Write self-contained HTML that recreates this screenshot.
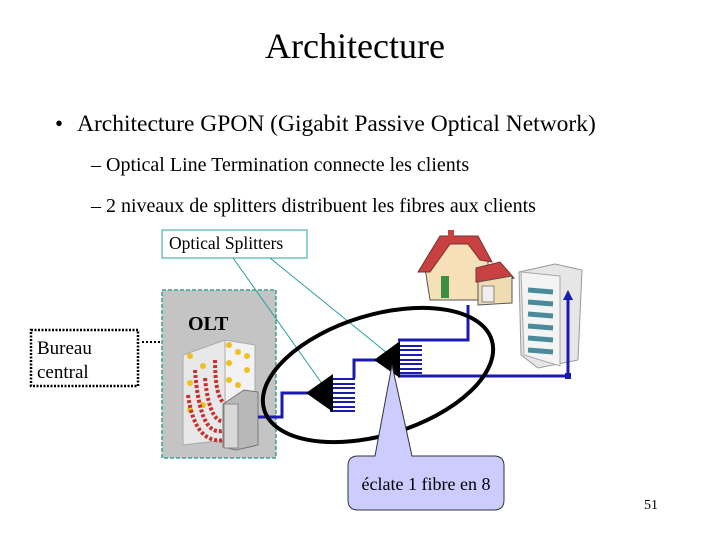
<!DOCTYPE html>
<html><head><meta charset="utf-8"><style>
body{margin:0;width:720px;height:540px;background:#fff;overflow:hidden;font-family:"Liberation Serif",serif;}
</style></head><body>
<svg width="720" height="540" viewBox="0 0 720 540" xmlns="http://www.w3.org/2000/svg" font-family="Liberation Serif, serif">
<text x="355" y="58" font-size="36" text-anchor="middle">Architecture</text>
<text x="55" y="131" font-size="23">•</text>
<text x="77" y="131" font-size="23.5">Architecture GPON (Gigabit Passive Optical Network)</text>
<text x="91" y="171" font-size="20">– Optical Line Termination connecte les clients</text>
<text x="91" y="212" font-size="20">– 2 niveaux de splitters distribuent les fibres aux clients</text>

<!-- Bureau central -->
<rect x="31" y="330" width="107" height="56" fill="#fff" stroke="#000" stroke-width="2.5" stroke-dasharray="2,1.5"/>
<text x="37" y="354" font-size="19">Bureau</text>
<text x="37" y="378" font-size="19">central</text>
<line x1="142" y1="342" x2="178" y2="342" stroke="#000" stroke-width="2" stroke-dasharray="2,2"/>

<!-- OLT -->
<rect x="162" y="290" width="114" height="168" fill="#c4c4c4" stroke="#3aa090" stroke-width="1.5" stroke-dasharray="4,2"/>
<text x="188" y="330" font-size="20" font-weight="bold">OLT</text>
<polygon points="183,355 225,340 225,440 183,445" fill="#e8e8e8" stroke="#aaa"/>
<polygon points="225,340 255,345 255,425 225,440" fill="#f2f2f2" stroke="#aaa"/>
<g fill="#f0c020">
<circle cx="190" cy="356" r="3"/><circle cx="190" cy="383" r="3"/><circle cx="190" cy="410" r="3"/><circle cx="203" cy="366" r="3"/><circle cx="229" cy="345" r="3"/><circle cx="238" cy="352" r="3"/><circle cx="247" cy="356" r="3"/><circle cx="229" cy="363" r="3"/><circle cx="247" cy="370" r="3"/><circle cx="229" cy="380" r="3"/><circle cx="238" cy="385" r="3"/><circle cx="203" cy="405" r="3"/>
</g>
<path d="M195 370 Q200 440 225 430 M205 378 Q210 430 230 420 M215 360 Q215 420 240 400 M188 395 Q195 445 225 440" stroke="#c83030" stroke-width="4" fill="none" stroke-dasharray="3,2"/>
<polygon points="223,404 244,390 258,392 258,445 236,450 223,447" fill="#b8b8b8" stroke="#777"/>
<rect x="224" y="404" width="14" height="44" fill="#d8d8d8" stroke="#888"/>

<!-- teal pointer lines -->
<line x1="233" y1="258" x2="323" y2="385" stroke="#2aa0a0" stroke-width="1"/>
<line x1="270" y1="258" x2="392" y2="357" stroke="#2aa0a0" stroke-width="1"/>
<rect x="162" y="230" width="145" height="28" fill="#fff" stroke="#2aa0a0" stroke-width="1"/>
<text x="169" y="249" font-size="17.5">Optical Splitters</text>

<!-- house -->
<polygon points="425,268 445,238 475,238 488,262 488,300 430,300" fill="#f6e0b8" stroke="#555"/>
<polygon points="418,272 440,236 478,236 492,262 480,260 468,244 450,244 430,272" fill="#c84040" stroke="#733"/>
<polygon points="476,268 500,262 514,278 490,283 476,282" fill="#c84040" stroke="#733"/>
<polygon points="478,282 512,276 512,303 478,305" fill="#f0dcb0" stroke="#555"/>
<rect x="441" y="276" width="8" height="22" fill="#3a9040"/>
<rect x="482" y="286" width="12" height="16" fill="#eee" stroke="#888"/>
<rect x="448" y="230" width="6" height="8" fill="#c84040"/>
<!-- building -->
<polygon points="519,272 555,264 582,270 578,360 538,368 521,355" fill="#e6e6e6" stroke="#999"/>
<polygon points="521,272 560,276 560,366 524,355" fill="#f4f4f4" stroke="#aaa"/>
<g stroke="#4a8a9a" stroke-width="5">
<line x1="528" y1="290" x2="553" y2="292"/><line x1="528" y1="302" x2="553" y2="304"/><line x1="528" y1="314" x2="553" y2="316"/><line x1="528" y1="326" x2="553" y2="328"/><line x1="528" y1="338" x2="553" y2="340"/><line x1="528" y1="350" x2="553" y2="352"/>
</g>

<!-- blue fibres -->
<g stroke="#1a1ab0" stroke-width="3" fill="none">
<polyline points="258,417 282,417 282,393 310,393"/>
<polyline points="354,378 354,360 378,360"/>
<polyline points="398,340 468,340 468,305"/>
<polyline points="398,376 568,376 568,298"/>
</g>
<g stroke="#1a1ab0" stroke-width="2">
<line x1="330" y1="379" x2="355" y2="379"/><line x1="330" y1="384" x2="355" y2="384"/><line x1="330" y1="388" x2="355" y2="388"/><line x1="330" y1="393" x2="355" y2="393"/><line x1="330" y1="398" x2="355" y2="398"/><line x1="330" y1="402" x2="355" y2="402"/><line x1="330" y1="407" x2="355" y2="407"/><line x1="330" y1="411" x2="355" y2="411"/>
<line x1="398" y1="346" x2="422" y2="346"/><line x1="398" y1="350" x2="422" y2="350"/><line x1="398" y1="355" x2="422" y2="355"/><line x1="398" y1="360" x2="422" y2="360"/><line x1="398" y1="364" x2="422" y2="364"/><line x1="398" y1="369" x2="422" y2="369"/><line x1="398" y1="373" x2="422" y2="373"/>
</g>
<polygon points="563,300 568,290 573,300" fill="#1a1ab0"/>
<rect x="565" y="373" width="6" height="6" fill="#1a1ab0"/>
<polygon points="306,393 333,374 333,412" fill="#000"/>
<polygon points="374,360 400,341 400,378" fill="#000"/>

<!-- ellipse -->
<ellipse cx="378" cy="375" rx="119" ry="60" transform="rotate(-17 378 375)" fill="none" stroke="#000" stroke-width="4"/>

<!-- callout -->
<path d="M358,456 L375,456 L392,365 L412,456 L494,456 Q504,456 504,466 L504,500 Q504,510 494,510 L358,510 Q348,510 348,500 L348,466 Q348,456 358,456 Z" fill="#ccccff" stroke="#333" stroke-width="1"/>
<text x="426" y="490" font-size="18" text-anchor="middle">éclate 1 fibre en 8</text>

<text x="658" y="509" font-size="14" text-anchor="end">51</text>
</svg>
</body></html>
